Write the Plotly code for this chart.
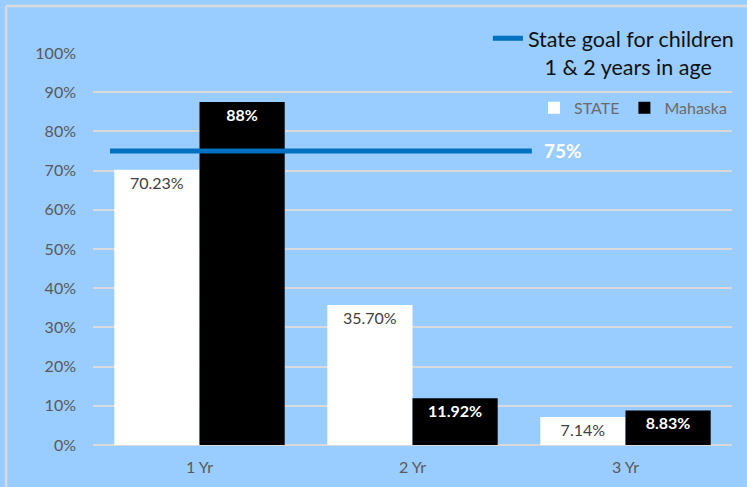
import plotly.graph_objects as go

categories = ["1 Yr", "2 Yr", "3 Yr"]
state_values = [70.23, 35.70, 7.14]
mahaska_values = [87.5, 11.92, 8.83]
state_labels = ["70.23%", "35.70%", "7.14%"]
mahaska_labels = ["88%", "11.92%", "8.83%"]
goal_value = 75
goal_name = "State goal for children<br>\u00a0\u00a0\u00a01 & 2 years in age"
goal_span = [-0.42, 1.56]
y_ticks = [0, 10, 20, 30, 40, 50, 60, 70, 80, 90, 100]
y_tick_labels = [f"{v}%" for v in y_ticks]

FONT = "Lato"
BG = "#99CCFF"

fig = go.Figure()
fig.add_trace(go.Bar(
    x=categories, y=state_values, name="STATE", legend="legend2",
    marker=dict(color="white", line=dict(width=0)),
    text=state_labels, textposition="inside", insidetextanchor="end",
    constraintext="none",
    textfont=dict(family=FONT, size=16, color="#404040"),
))
fig.add_trace(go.Bar(
    x=categories, y=mahaska_values, name="Mahaska", legend="legend2",
    marker=dict(color="black", line=dict(width=0)),
    text=mahaska_labels, textposition="inside", insidetextanchor="end",
    constraintext="none",
    textfont=dict(family=FONT, size=16, color="white", weight="bold"),
))
# legend entry for the goal line
fig.add_trace(go.Scatter(
    x=[None], y=[None], mode="lines", name=goal_name,
    line=dict(color="#0070C0", width=5), legend="legend",
))

fig.add_shape(type="line", xref="x", yref="y",
              x0=goal_span[0], x1=goal_span[1], y0=goal_value, y1=goal_value,
              line=dict(color="#0070C0", width=5), layer="above")
fig.add_annotation(x=goal_span[1], y=goal_value, xref="x", yref="y",
                   text=f"<b>{goal_value}%</b>", showarrow=False,
                   xanchor="left", xshift=10, yshift=1,
                   font=dict(family=FONT, size=19, color="white"))

# outer frame (left and top edges of the chart border)
fig.add_shape(type="line", xref="paper", yref="paper",
              x0=-0.136, x1=-0.136, y0=-0.2, y1=1.12,
              line=dict(color="#D9D9D9", width=2.5), layer="above")
fig.add_shape(type="line", xref="paper", yref="paper",
              x0=-0.136, x1=1.2, y0=1.12, y1=1.12,
              line=dict(color="#D9D9D9", width=2.5), layer="above")

fig.update_layout(
    width=747, height=487,
    paper_bgcolor=BG, plot_bgcolor=BG,
    margin=dict(l=93, r=15, t=53, b=42, autoexpand=False),
    barmode="group", bargap=0.2, bargroupgap=0,
    font=dict(family=FONT, color="#595959"),
    xaxis=dict(showgrid=False, ticks="", showline=False,
               ticklabelstandoff=11,
               tickfont=dict(family=FONT, size=16, color="#595959"),
               range=[-0.5, 2.5]),
    yaxis=dict(range=[0, 100], tickmode="array", tickvals=y_ticks,
               ticktext=y_tick_labels,
               showgrid=True, gridcolor="#D9D9D9", gridwidth=2,
               zeroline=True, zerolinecolor="#D9D9D9", zerolinewidth=2,
               showline=False, ticks="", ticklabelstandoff=16,
               tickfont=dict(family=FONT, size=16, color="#595959")),
    legend=dict(x=0.618, y=1.09, xanchor="left", yanchor="top",
                bgcolor="rgba(0,0,0,0)", valign="top",
                font=dict(family=FONT, size=21.5, color="#111111")),
    legend2=dict(x=1.0, y=0.86, xanchor="right", yanchor="middle",
                 orientation="h", bgcolor="rgba(0,0,0,0)", itemwidth=30,
                 font=dict(family=FONT, size=16, color="#6b6b6b")),
    showlegend=True,
)

fig.write_html("out.html", config={"displayModeBar": False},
               post_script="document.body.style.margin='0';")
